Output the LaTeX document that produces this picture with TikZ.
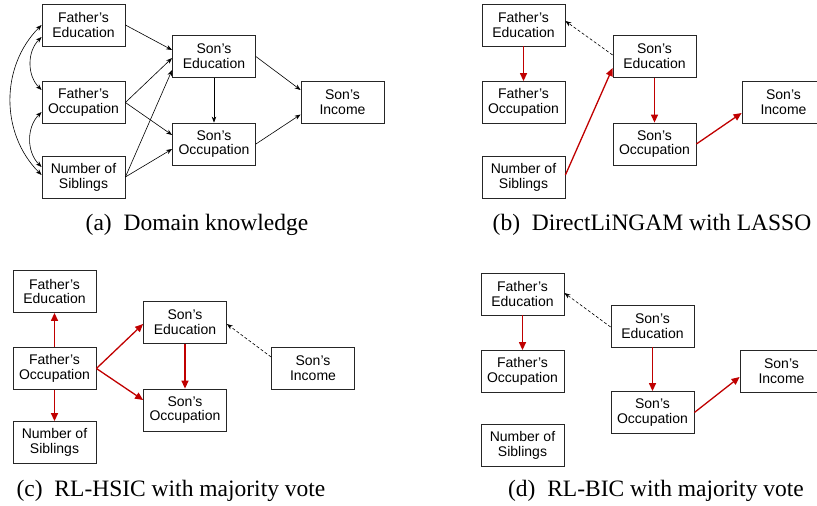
\documentclass[tikz,border=0pt]{standalone}
\usepackage{fontspec}
\setmainfont{Liberation Serif}
\setsansfont{Liberation Sans}
\usetikzlibrary{arrows.meta}
\definecolor{edgered}{RGB}{192,0,0}
\tikzset{
	var/.style={draw=black!85, rectangle, line width=0.8pt, inner sep=0pt, minimum width=83pt, minimum height=42pt, align=center, font=\sffamily\fontsize{14}{14.8}\selectfont},
	% arrows of the prior graph
	known/.style={line width=0.6pt, ->},
	% arrows found by the methods
	found/.style={draw=edgered, line width=1.3pt, -{Triangle[length=8pt, width=7pt]}},
	weak/.style={line width=0.6pt, dash pattern=on 3pt off 2pt, ->},
	subcap/.style={font=\fontsize{23.5}{28}\selectfont},
}
\begin{document}
\begin{tikzpicture}[x=1pt, y=1pt, >={Stealth[length=6pt, width=4.5pt]}]
	\clip (0,0) rectangle (817,-506);
	
	% (a) domain knowledge
	\node (afe) [var] at (83.5,-25) {Father’s\\Education};
	\node (afo) [var] at (83.5,-102.5) {Father’s\\Occupation};
	\node (ans) [var] at (83.5,-177) {Number of\\Siblings};
	\node (ase) [var] at (214,-56.5) {Son’s\\Education};
	\node (aso) [var] at (214,-144) {Son’s\\Occupation};
	\node (asi) [var] at (342.5,-102.5) {Son’s\\Income};
	\node (acap) [subcap] at (197,-225) {(a)\enspace Domain knowledge};
	
	% (b) DirectLiNGAM
	\node (bfe) [var] at (523.5,-25) {Father’s\\Education};
	\node (bfo) [var] at (523.5,-102.5) {Father’s\\Occupation};
	\node (bns) [var] at (523.5,-177) {Number of\\Siblings};
	\node (bse) [var] at (654.5,-56.5) {Son’s\\Education};
	\node (bso) [var] at (654.5,-144) {Son’s\\Occupation};
	\node (bsi) [var] at (783.5,-102.5) {Son’s\\Income};
	\node (bcap) [subcap] at (652,-225) {(b)\enspace DirectLiNGAM with LASSO};
	
	% (c) RL-HSIC
	\node (cfe) [var] at (54.5,-291.5) {Father’s\\Education};
	\node (cfo) [var] at (54.5,-368.5) {Father’s\\Occupation};
	\node (cns) [var] at (54.5,-442.5) {Number of\\Siblings};
	\node (cse) [var] at (185,-322.5) {Son’s\\Education};
	\node (cso) [var] at (185,-410) {Son’s\\Occupation};
	\node (csi) [var] at (313,-368.5) {Son’s\\Income};
	\node (ccap) [subcap] at (171,-491) {(c)\enspace RL-HSIC with majority vote};
	
	% (d) RL-BIC
	\node (dfe) [var] at (522.5,-294) {Father’s\\Education};
	\node (dfo) [var] at (522.5,-371.5) {Father’s\\Occupation};
	\node (dns) [var] at (522.5,-445) {Number of\\Siblings};
	\node (dse) [var] at (652.5,-326) {Son’s\\Education};
	\node (dso) [var] at (652.5,-412.5) {Son’s\\Occupation};
	\node (dsi) [var] at (781.5,-371.5) {Son’s\\Income};
	\node (dcap) [subcap] at (656,-491) {(d)\enspace RL-BIC with majority vote};
	
	\begin{scope}[known]
		\draw (afe.east) -- ([yshift=6.5]ase.west);
		\draw (afo.east) -- ([yshift=-1.5]ase.west);
		\draw (afo.east) -- ([yshift=9]aso.west);
		\draw (ans.east) -- ([yshift=-13.5]ase.west);
		\draw (ans.east) -- ([yshift=-5]aso.west);
		\draw (ase.south) -- (aso.north);
		\draw (ase.east) -- ([yshift=12.5]asi.west);
		\draw (aso.east) -- ([yshift=-12]asi.west);
		
		\draw [<->] ([yshift=-12]afe.west) to[out=225, in=135] ([yshift=12.5]afo.west);
		\draw [<->] ([yshift=-9.5]afo.west) to[out=225, in=135] ([yshift=10]ans.west);
		\draw [<->] (afe.west) to[out=225, in=135] ([yshift=2]ans.west);
	\end{scope}
	
	\begin{scope}[found]
		\draw (bfe) -- (bfo);
		\draw ([yshift=2]bns.east) -- ([yshift=-11.5]bse.west);
		\draw (bse) -- (bso);
		\draw (bso.east) -- ([yshift=-10.5]bsi.west);
		
		\draw (cfo) -- (cfe);
		\draw (cfo) -- (cns);
		\draw (cfo.east) -- ([yshift=-1.5]cse.west);
		\draw (cfo.east) -- ([yshift=10]cso.west);
		\draw (cse) -- (cso);
		
		\draw (dfe) -- (dfo);
		\draw (dse) -- (dso);
		\draw (dso.east) -- ([yshift=-5.5]dsi.west);
	\end{scope}
	
	\draw [weak] ([yshift=1.5]bse.west) -- ([yshift=4]bfe.east);
	\draw [weak] ([yshift=11.5]csi.west) -- ([yshift=-1.5]cse.east);
	\draw [weak] ([yshift=-1]dse.west) -- ([yshift=1]dfe.east);
	
\end{tikzpicture}
\end{document}
